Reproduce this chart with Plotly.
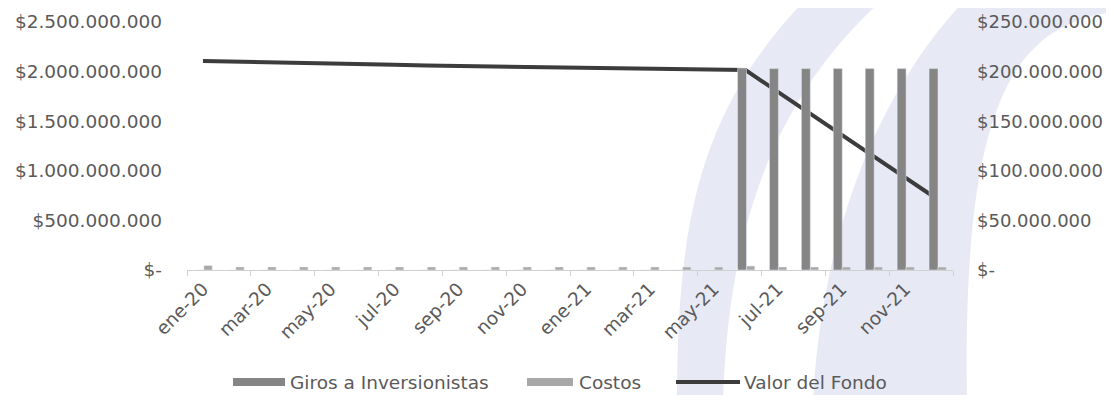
import plotly.graph_objects as go

# ---------------- data ----------------
months = ["ene-20", "feb-20", "mar-20", "abr-20", "may-20", "jun-20", "jul-20", "ago-20",
          "sep-20", "oct-20", "nov-20", "dic-20", "ene-21", "feb-21", "mar-21", "abr-21",
          "may-21", "jun-21", "jul-21", "ago-21", "sep-21", "oct-21", "nov-21", "dic-21"]

giros = [0, 0, 0, 0, 0, 0, 0, 0, 0, 0, 0, 0, 0, 0, 0, 0, 0,
         203e6, 203e6, 203e6, 203e6, 203e6, 203e6, 203e6]

costos = [4.5e6, 3e6, 3e6, 3e6, 3e6, 3e6, 3e6, 3e6, 3e6, 3e6, 3e6, 3e6, 3e6, 3e6, 3e6, 3e6, 3e6,
          4e6, 3e6, 3e6, 3e6, 3e6, 3e6, 3e6]

valor_fondo = [2107e6, 2102e6, 2097e6, 2092e6, 2085e6, 2075e6, 2068e6, 2062e6, 2057e6, 2052e6,
               2047e6, 2042e6, 2037e6, 2032e6, 2027e6, 2022e6, 2018e6,
               2015e6, 1798e6, 1582e6, 1365e6, 1149e6, 932e6, 716e6]

left_ticks = [0, 500e6, 1000e6, 1500e6, 2000e6, 2500e6]
left_labels = ["$-", "$500.000.000", "$1.000.000.000", "$1.500.000.000",
               "$2.000.000.000", "$2.500.000.000"]
right_ticks = [0, 50e6, 100e6, 150e6, 200e6, 250e6]
right_labels = ["$-", "$50.000.000", "$100.000.000", "$150.000.000",
                "$200.000.000", "$250.000.000"]

legend_names = ["Giros a Inversionistas", "Costos", "Valor del Fondo"]

# ---------------- style ----------------
OFF = 8                      # page body margin (all sides)
W, H = 1114 - 2 * OFF, 403 - 2 * OFF
ML, MT = 187 - OFF, 22 - OFF
PLOT_R, PLOT_B = 953 - OFF, 270 - OFF
MR, MB = W - PLOT_R, H - PLOT_B
PW, PH = PLOT_R - ML, PLOT_B - MT
FONT = "DejaVu Sans"
FS = 18.5
TXT = "#5a5a5a"
C_GIROS = "#858585"
C_COSTOS = "#a8a8a8"
C_LINE = "#3c3c3c"
LAV = "#e7e9f5"


def fx(sx):
    return (sx - OFF - ML) / PW


def fy(sy):
    return (PLOT_B - (sy - OFF)) / PH


def px(x, y):
    return f"{fx(x):.5f},{fy(y):.5f}"


fig = go.Figure()

fig.add_trace(go.Bar(x=months, y=giros, name=legend_names[0], marker_color=C_GIROS,
                     width=0.28, offset=-0.25, yaxis="y2", showlegend=False))
fig.add_trace(go.Bar(x=months, y=costos, name=legend_names[1], marker_color=C_COSTOS,
                     width=0.26, offset=0.03, yaxis="y2", showlegend=False))
fig.add_trace(go.Scatter(x=months, y=valor_fondo, name=legend_names[2], mode="lines",
                         line=dict(color=C_LINE, width=4), yaxis="y", showlegend=False))

shapes = []
# watermark arcs
band1 = ("M " + px(677, 403) + " C " + px(677, 220) + " " + px(700, 110) + " " + px(805, 0) +
         " L " + px(882, 0) + " C " + px(772, 100) + " " + px(728, 230) + " " + px(723, 403) + " Z")
band2 = ("M " + px(813, 403) + " C " + px(820, 250) + " " + px(870, 100) + " " + px(965, 0) +
         " L " + px(1114, 0) + " L " + px(1114, 12) + " C " + px(1010, 25) + " " + px(962, 110) +
         " " + px(967, 403) + " Z")
for p in (band1, band2):
    shapes.append(dict(type="path", path=p, xref="paper", yref="paper",
                       fillcolor=LAV, line=dict(width=0), layer="below"))

# custom legend
LY = 382
shapes.append(dict(type="rect", xref="paper", yref="paper",
                   x0=fx(233), x1=fx(285), y0=fy(LY + 4), y1=fy(LY - 4),
                   fillcolor=C_GIROS, line=dict(width=0)))
shapes.append(dict(type="rect", xref="paper", yref="paper",
                   x0=fx(527), x1=fx(573), y0=fy(LY + 4), y1=fy(LY - 4),
                   fillcolor=C_COSTOS, line=dict(width=0)))
shapes.append(dict(type="line", xref="paper", yref="paper",
                   x0=fx(676), x1=fx(740), y0=fy(LY), y1=fy(LY),
                   line=dict(color=C_LINE, width=4)))

annotations = []
for name, xpix in zip(legend_names, [288, 577, 742]):
    annotations.append(dict(text=name, xref="paper", yref="paper",
                            x=fx(xpix), y=fy(LY),
                            xanchor="left", yanchor="middle", showarrow=False,
                            font=dict(family=FONT, size=FS, color=TXT)))

fig.update_layout(
    width=W, height=H, autosize=False,
    margin=dict(l=ML, r=MR, t=MT, b=MB, pad=0, autoexpand=False),
    paper_bgcolor="white", plot_bgcolor="rgba(0,0,0,0)",
    font=dict(family=FONT, size=FS, color=TXT),
    barmode="overlay",
    shapes=shapes, annotations=annotations,
    xaxis=dict(type="category", tickangle=-45, dtick=2, tickson="boundaries",
               ticks="outside", ticklen=5, tickcolor="#d0d0d0",
               showline=True, linecolor="#d0d0d0", linewidth=1,
               showgrid=False, zeroline=False, automargin=False,
               tickfont=dict(family=FONT, size=FS, color=TXT)),
    yaxis=dict(range=[0, 2.5e9], tickvals=left_ticks, ticktext=left_labels,
               showgrid=False, zeroline=False, showline=False, ticks="",
               automargin=False,
               ticklabelstandoff=24, tickfont=dict(family=FONT, size=FS, color=TXT)),
    yaxis2=dict(range=[0, 2.5e8], tickvals=right_ticks, ticktext=right_labels,
                overlaying="y", side="right", showgrid=False, zeroline=False,
                showline=False, ticks="", ticklabelstandoff=23, automargin=False,
                tickfont=dict(family=FONT, size=18, color=TXT)),
)

fig.write_html("out.html")
